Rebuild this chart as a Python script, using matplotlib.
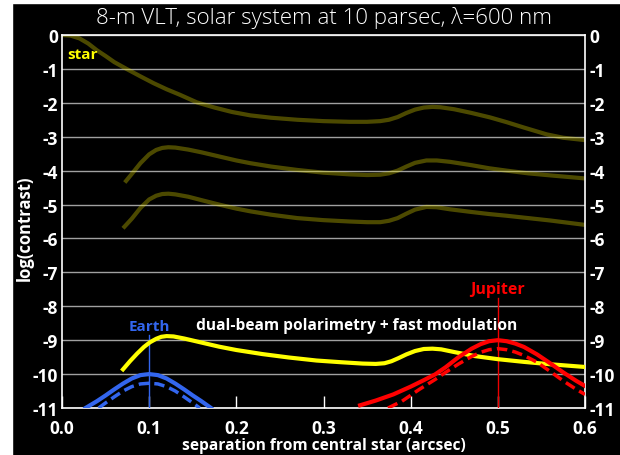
import numpy as np
import matplotlib.pyplot as plt
from matplotlib.patches import Rectangle

plt.rcParams['font.family'] = ['Open Sans', 'DejaVu Sans']

# star halo curves (log contrast vs separation)
star_x = [0, 0.01, 0.02, 0.03, 0.04, 0.05, 0.06, 0.074, 0.09, 0.105, 0.12, 0.135, 0.155, 0.175, 0.195,
          0.216, 0.24, 0.27, 0.3, 0.33, 0.35, 0.365, 0.375, 0.385, 0.395, 0.405, 0.415, 0.425, 0.434,
          0.45, 0.47, 0.491, 0.51, 0.53, 0.556, 0.575, 0.6]
star_y = [0, -0.02, -0.1, -0.25, -0.45, -0.62, -0.8, -1.0, -1.22, -1.42, -1.6, -1.76, -1.99, -2.14, -2.27,
          -2.37, -2.44, -2.5, -2.54, -2.56, -2.56, -2.54, -2.5, -2.42, -2.3, -2.2, -2.14, -2.12, -2.13,
          -2.19, -2.3, -2.43, -2.57, -2.73, -2.93, -3.03, -3.1]
ao1_x = [0.072, 0.08, 0.09, 0.1, 0.108, 0.115, 0.122, 0.13, 0.145, 0.16, 0.18, 0.2, 0.216, 0.24, 0.27,
         0.3, 0.33, 0.35, 0.365, 0.375, 0.385, 0.395, 0.405, 0.418, 0.43, 0.445, 0.47, 0.49, 0.51,
         0.535, 0.56, 0.6]
ao1_y = [-4.35, -4.1, -3.78, -3.52, -3.39, -3.33, -3.31, -3.32, -3.38, -3.46, -3.58, -3.7, -3.78, -3.88,
         -3.98, -4.06, -4.11, -4.13, -4.12, -4.08, -4.0, -3.88, -3.77, -3.7, -3.7, -3.74, -3.84, -3.93,
         -4.0, -4.08, -4.14, -4.23]
ao2_x = [0.07, 0.08, 0.09, 0.1, 0.108, 0.115, 0.122, 0.13, 0.145, 0.16, 0.18, 0.2, 0.216, 0.24, 0.27,
         0.3, 0.33, 0.35, 0.365, 0.375, 0.385, 0.395, 0.405, 0.418, 0.43, 0.445, 0.47, 0.49, 0.51,
         0.535, 0.56, 0.6]
ao2_y = [-5.7, -5.42, -5.1, -4.85, -4.74, -4.69, -4.68, -4.7, -4.77, -4.87, -5.0, -5.12, -5.2, -5.3,
         -5.4, -5.46, -5.5, -5.52, -5.52, -5.48, -5.4, -5.27, -5.15, -5.07, -5.08, -5.14, -5.22, -5.28,
         -5.33, -5.4, -5.47, -5.6]

# polarimetry curve
pol_x = [0.07, 0.078, 0.086, 0.094, 0.101, 0.108, 0.114, 0.12, 0.128, 0.14, 0.16, 0.18, 0.2, 0.23, 0.26,
         0.292, 0.32, 0.345, 0.36, 0.37, 0.378, 0.386, 0.395, 0.405, 0.415, 0.425, 0.435, 0.45, 0.474,
         0.5, 0.53, 0.56, 0.6]
pol_y = [-9.86, -9.62, -9.4, -9.2, -9.06, -8.96, -8.9, -8.88, -8.89, -8.95, -9.07, -9.19, -9.29, -9.41,
         -9.51, -9.6, -9.65, -9.69, -9.7, -9.68, -9.62, -9.53, -9.42, -9.32, -9.26, -9.25, -9.27, -9.35,
         -9.47, -9.56, -9.64, -9.71, -9.79]

# planets
earth_x = [0.027, 0.04, 0.05, 0.06, 0.07, 0.08, 0.09, 0.1, 0.11, 0.12, 0.13, 0.14, 0.15, 0.16, 0.171]
earth_y = [-11, -10.8, -10.63, -10.45, -10.28, -10.13, -10.03, -10, -10.03, -10.13, -10.28, -10.45,
           -10.63, -10.8, -11]
earthp_x = [0.042, 0.05, 0.06, 0.07, 0.08, 0.09, 0.1, 0.11, 0.12, 0.13, 0.14, 0.15, 0.158]
earthp_y = [-11, -10.85, -10.67, -10.5, -10.37, -10.29, -10.27, -10.29, -10.37, -10.5, -10.67, -10.85, -11]
jup_x = [0.342, 0.36, 0.38, 0.4, 0.415, 0.428, 0.44, 0.455, 0.47, 0.48, 0.49, 0.5, 0.51, 0.52, 0.53,
         0.545, 0.56, 0.575, 0.59, 0.6]
jup_y = [-10.92, -10.78, -10.6, -10.37, -10.18, -10.01, -9.8, -9.5, -9.25, -9.12, -9.03, -9.0, -9.03,
         -9.1, -9.2, -9.42, -9.68, -9.95, -10.2, -10.35]
jupp_x = [0.374, 0.39, 0.41, 0.428, 0.44, 0.455, 0.47, 0.48, 0.49, 0.5, 0.51, 0.52, 0.53, 0.545, 0.56,
          0.575, 0.59, 0.6]
jupp_y = [-11, -10.8, -10.45, -10.16, -9.95, -9.7, -9.48, -9.36, -9.28, -9.25, -9.28, -9.35, -9.45,
          -9.65, -9.92, -10.2, -10.45, -10.6]

xticks = [0.0, 0.1, 0.2, 0.3, 0.4, 0.5, 0.6]
yticks = list(range(0, -12, -1))

fig = plt.figure(figsize=(6.2, 4.56), dpi=100, facecolor='black')
fig.patches.append(Rectangle((0, 0), 12/620, 1, transform=fig.transFigure, color='white', zorder=0))
fig.patches.append(Rectangle((0, 1 - 4/456), 1, 4/456, transform=fig.transFigure, color='white', zorder=0))
ax = fig.add_axes([62/620, 1 - 409/456, 523/620, 373/456])
ax.set_facecolor('black')

ax.set_xlim(0, 0.6)
ax.set_ylim(-11, 0)
for y in yticks:
    ax.axhline(y, color='#a0a0a0', lw=1, zorder=1)

halo = dict(color='#e8e000', alpha=0.33, lw=3, solid_joinstyle='round', solid_capstyle='butt', zorder=2)
ax.plot(star_x, star_y, **halo)
ax.plot(ao1_x, ao1_y, **halo)
ax.plot(ao2_x, ao2_y, **halo)

ax.plot([0.1, 0.1], [-8.85, -11], color='#3366ee', lw=1, zorder=3)
ax.plot([0.5, 0.5], [-7.75, -11], color='#ee0000', lw=1, zorder=3)

ax.plot(pol_x, pol_y, color='#ffff00', lw=3, solid_joinstyle='round', zorder=4)
ax.plot(earth_x, earth_y, color='#3366ee', lw=3, solid_joinstyle='round', zorder=4)
ax.plot(earthp_x, earthp_y, color='#3366ee', lw=2.5, ls=(0, (3, 1.5)), zorder=4)
ax.plot(jup_x, jup_y, color='#ff0000', lw=3, solid_joinstyle='round', zorder=4)
ax.plot(jupp_x, jupp_y, color='#ff0000', lw=2.5, ls=(0, (3, 1.5)), zorder=4)

ax.text(0.006, -0.55, 'star', color='#ffff00', fontsize=11, fontweight='bold', va='center')
ax.text(0.1, -8.58, 'Earth', color='#3366ee', fontsize=11, fontweight='bold', ha='center', va='center')
ax.text(0.5, -7.5, 'Jupiter', color='#ff0000', fontsize=11.5, fontweight='bold', ha='center', va='center')
ax.text(0.3385, -8.55, 'dual-beam polarimetry + fast modulation', color='white', fontsize=11.2,
        fontweight='bold', ha='center', va='center')

for s in ax.spines.values():
    s.set_color('white')
    s.set_linewidth(1.2)

ax.set_xticks(xticks)
ax.set_xticklabels(['%.1f' % v for v in xticks])
ax.set_yticks(yticks)
ax.set_yticklabels([str(v) for v in yticks])
ax.tick_params(axis='x', direction='in', length=9, width=1, color='white', labelcolor='white', labelsize=12.5, pad=8)
ax.tick_params(axis='y', length=0, labelcolor='white', labelsize=12.5, pad=3, labelright=True, right=False)
for lab in ax.get_xticklabels() + ax.get_yticklabels():
    lab.set_fontweight('bold')

ax.set_xlabel('separation from central star (arcsec)', color='white', fontsize=11.2, fontweight='bold', labelpad=0)
ax.set_ylabel('log(contrast)', color='white', fontsize=12, fontweight='bold', va='center')
ax.yaxis.set_label_coords(-0.071, 0.485)
fig.text(324/620, 1 - 18/456, '8-m VLT, solar system at 10 parsec, \u03bb=600 nm', color='white',
         fontsize=16, ha='center', va='center', fontweight='light')

plt.savefig('out.png', dpi=100, facecolor=fig.get_facecolor())
